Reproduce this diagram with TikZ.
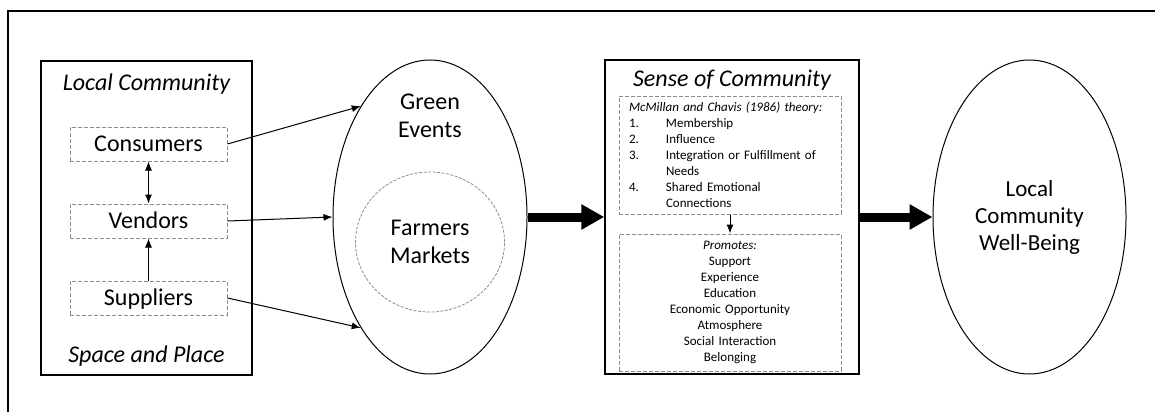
\documentclass[tikz,border=0pt]{standalone}
\usepackage{fontspec}
\setmainfont{Carlito}
\usetikzlibrary{positioning, arrows.meta, shapes.geometric}
\definecolor{dashgray}{gray}{0.55}

\begin{document}
\begin{tikzpicture}[
                x=1pt, y=1pt,
                bigfont/.style={font=\fontsize{24}{28}\selectfont},
                smallfont/.style={font=\fontsize{13}{16}\selectfont},
                title/.style={font=\fontsize{24}{28}\selectfont\itshape, anchor=base},
                panel/.style={draw, line width=1.5pt, minimum width=#1, minimum height=314pt, inner sep=0pt},
                actor/.style={draw=dashgray, dash pattern=on 4pt off 2pt, line width=1pt, minimum width=157pt, minimum height=34pt, inner sep=0pt, text height=16pt, text depth=1pt, bigfont},
                subbox/.style={draw=dashgray, dash pattern=on 4pt off 2pt, line width=1pt, inner sep=0pt, inner xsep=10pt, text width=202pt, smallfont},
                oval/.style={ellipse, draw, line width=1pt, minimum width=194pt, minimum height=314pt, inner sep=0pt, align=center},
                link/.style={-{Latex[length=9pt,width=7pt]}, line width=1pt},
                dlink/.style={{Latex[length=9pt,width=7pt]}-{Latex[length=9pt,width=7pt]}, line width=1pt},
                bigflow/.style={-{Triangle[length=23pt,width=24pt]}, line width=9pt},
            ]

            \useasboundingbox (0,0) rectangle (1155,-412);

            % Outer frame (runs off the right and bottom edges)
            \draw[line width=2pt] (8,-412) -- (8,-11) -- (1155,-11);

            % Local community panel
            \node[panel=211pt] (local) at (146.5,-218) {};
            \node[title] (localtitle) at (146.5,-90) {Local Community};
            \node[title] (placetitle) at (146.5,-362) {Space and Place};

            \node[actor] (consumers) at (148.5,-144) {Consumers};
            \node[actor, below=42pt of consumers] (vendors) {Vendors};
            \node[actor, below=42pt of vendors] (suppliers) {Suppliers};

            \draw[dlink] (consumers) -- (vendors);
            \draw[link] (suppliers) -- (vendors);

            % Green events with farmers markets inside
            \node[oval] (events) at (430,-217) {};
            \node[bigfont, align=center] (eventstext) at (430,-115.5) {Green\\Events};
            \node[ellipse, draw=dashgray, dash pattern=on 3pt off 1.5pt, line width=0.8pt, minimum width=149pt, minimum height=140pt, inner sep=0pt, align=center, bigfont] (markets) at (430,-242) {Farmers\\Markets};

            \draw[link] (consumers.east) -- (events.122);
            \draw[link] (vendors.east) -- (events.west);
            \draw[link] (suppliers.east) -- (events.238);

            % Sense of community panel
            \node[panel=254pt] (sense) at (732,-217) {};
            \node[title] (sensetitle) at (732,-86) {Sense of Community};

            \node[subbox, align=left, minimum height=118pt] (theory) at (730,-155) {\textit{McMillan and Chavis (1986) theory:}\\
                \makebox[37pt][l]{1.}Membership\\
                \makebox[37pt][l]{2.}Influence\\
                \makebox[37pt][l]{3.}Integration or Fulfillment of\\
                \hspace*{37pt}Needs\\
                \makebox[37pt][l]{4.}Shared Emotional\\
                \hspace*{37pt}Connections};
            \node[subbox, align=center, minimum height=137pt, below=19pt of theory] (promotes) {\textit{Promotes:}\\
                Support\\Experience\\Education\\Economic Opportunity\\Atmosphere\\Social Interaction\\Belonging};

            \draw[link] (theory) -- (promotes);

            % Outcome
            \node[oval, minimum width=193pt, font=\fontsize{23}{27}\selectfont] (wellbeing) at (1029.5,-217) {Local\\Community\\Well-Being};

            % Main flow
            \draw[bigflow] (events.east) -- (sense.west);
            \draw[bigflow] (sense.east) -- (wellbeing.west);

\end{tikzpicture}
\end{document}
